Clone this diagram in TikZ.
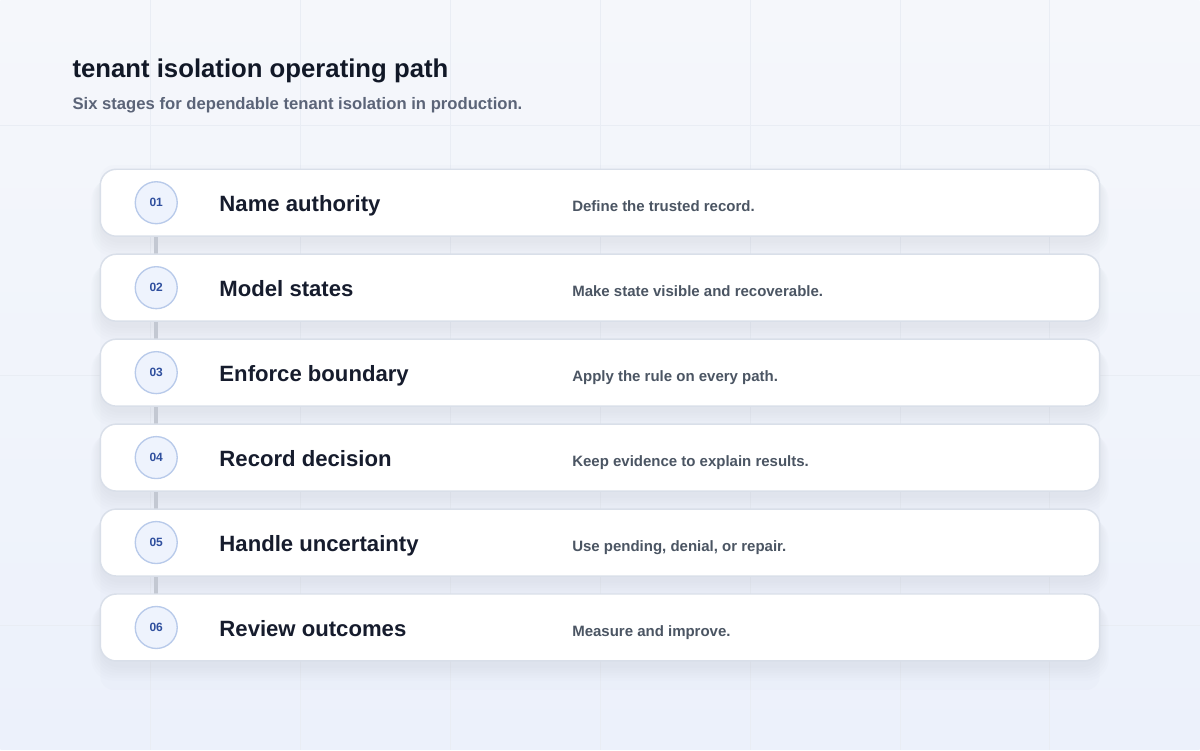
\documentclass[tikz,border=0pt]{standalone}
\usepackage{fontspec}
\setmainfont{Liberation Sans}
\usetikzlibrary{backgrounds}
\definecolor{bgA}{HTML}{F5F7FB}
\definecolor{bgB}{HTML}{ECF1FB}
\definecolor{gridc}{HTML}{E9EDF4}
\definecolor{cardborder}{HTML}{D9DFE9}
\definecolor{shadowc}{HTML}{9AA6BF}
\definecolor{circfill}{HTML}{EEF3FD}
\definecolor{circdraw}{HTML}{B8CAEA}
\definecolor{numc}{HTML}{2F4F9E}
\definecolor{titlec}{HTML}{111827}
\definecolor{subc}{HTML}{5B6478}
\definecolor{stepc}{HTML}{161C2D}
\definecolor{descc}{HTML}{4B5563}
\definecolor{linkc}{HTML}{C3C8D2}
\pgfdeclarelayer{bg}
\pgfsetlayers{bg,background,main}
\tikzset{
  card/.style={draw=cardborder, line width=1.1pt, fill=white, rounded corners=12pt},
  numcircle/.style={circle, draw=circdraw, line width=1pt, fill=circfill, minimum size=31.5pt, inner sep=0pt,
    font=\fontsize{9}{10}\selectfont\bfseries, text=numc},
  steptitle/.style={anchor=base west, font=\fontsize{16.6}{18}\selectfont\bfseries, text=stepc, inner sep=0pt},
  stepdesc/.style={anchor=base west, font=\fontsize{11.25}{13}\selectfont\bfseries, text=descc, inner sep=0pt},
  link/.style={draw=linkc, line width=3pt},
}
\begin{document}
\begin{tikzpicture}[x=0.75pt,y=-0.75pt]
\begin{pgfonlayer}{bg}
\shade[top color=bgA, bottom color=bgB] (0,0) rectangle (1200,750);
\foreach \gx in {150,300,...,1050} \draw[gridc, line width=0.5pt] (\gx,0) -- (\gx,750);
\foreach \gy in {125,375,625} \draw[gridc, line width=0.5pt] (0,\gy) -- (1200,\gy);
\fill[shadowc, opacity=0.03, rounded corners=10pt] (100,165) rectangle (1100,690);
\end{pgfonlayer}
\useasboundingbox (0,0) rectangle (1200,750);

\node[anchor=base west, inner sep=0pt, font=\fontsize{19.3}{22}\selectfont\bfseries, text=titlec] (title) at (72,77) {tenant isolation operating path};
\node[anchor=base west, inner sep=0pt, font=\fontsize{12.5}{15}\selectfont\bfseries, text=subc] (subtitle) at (72,109.5) {Six stages for dependable tenant isolation in production.};

\foreach \i/\t/\d in {1/Name authority/Define the trusted record.,
                      2/Model states/Make state visible and recoverable.,
                      3/Enforce boundary/Apply the rule on every path.,
                      4/Record decision/Keep evidence to explain results.,
                      5/Handle uncertainty/{Use pending, denial, or repair.},
                      6/Review outcomes/Measure and improve.}{
  \pgfmathsetmacro{\top}{169+85*(\i-1)}
  \pgfmathsetmacro{\bot}{\top+67}
  \pgfmathsetmacro{\mid}{\top+33.5}
  \begin{pgfonlayer}{bg}
    \foreach \k in {1,...,6}{
      \fill[shadowc, opacity=0.025, rounded corners=16pt]
        (100-\k*1.5,\top+2+\k*1.2) rectangle (1100+\k*1.5,\bot+4+\k*2.6);
    }
  \end{pgfonlayer}
  \draw[card] (100,\top) rectangle (1100,\bot);
  \node[numcircle] (c\i) at (156,\mid) {0\i};
  \node[steptitle] (t\i) at (219,\top+42.5) {\t};
  \node[stepdesc] (d\i) at (572,\top+42.5) {\d};
}
\begin{pgfonlayer}{background}
\foreach \a/\b in {1/2,2/3,3/4,4/5,5/6} \draw[link] (c\a) -- (c\b);
\end{pgfonlayer}
\end{tikzpicture}
\end{document}
